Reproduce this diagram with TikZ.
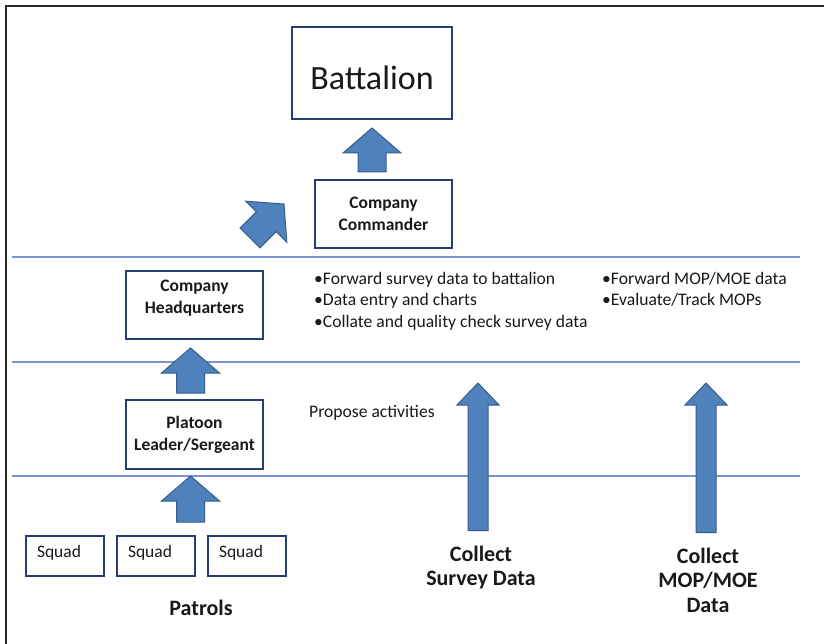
\documentclass[tikz,border=0pt]{standalone}
\usepackage{fontspec}
\setmainfont{Carlito}
\usetikzlibrary{calc}
\definecolor{boxedge}{RGB}{38,62,112}
\definecolor{arrfill}{RGB}{79,129,189}
\definecolor{arredge}{RGB}{56,93,138}
\definecolor{sepline}{RGB}{120,150,205}
\definecolor{txt}{RGB}{25,25,25}
\begin{document}
\begin{tikzpicture}[x=1pt,y=-1pt,
  unit/.style={draw=boxedge,line width=2pt,align=center,inner sep=0pt,text=txt,font=\bfseries\fontsize{17.5}{22}\selectfont},
  squad/.style={draw=boxedge,line width=2pt,inner xsep=11pt,inner ysep=3pt,text width=56pt,text height=18.5pt,text depth=15.5pt,align=left,text=txt,font=\fontsize{17.5}{21}\selectfont},
  lbl/.style={inner sep=0pt,align=center,text=txt,font=\bfseries\fontsize{22}{24.5}\selectfont},
  note/.style={inner sep=0pt,align=left,text=txt,font=\fontsize{17.6}{21.5}\selectfont},
  sep/.style={draw=sepline,line width=1.2pt},
  arr shaft/.store in=\arrshaft, arr head/.store in=\arrhead, arr len/.store in=\arrlen,
  arr shaft=14pt, arr head=29pt, arr len=25pt,
  blockarr/.style={draw=arredge,fill=arrfill,line width=1pt,line join=miter,
    to path={($(\tikztotarget)!\arrlen!(\tikztostart)$) coordinate (hb)
      ($(\tikztostart)!\arrshaft!90:(\tikztotarget)$) -- ($(hb)!\arrshaft!90:(\tikztotarget)$)
      -- ($(hb)!\arrhead!90:(\tikztotarget)$) -- (\tikztotarget)
      -- ($(hb)!\arrhead!-90:(\tikztotarget)$) -- ($(hb)!\arrshaft!-90:(\tikztotarget)$)
      -- ($(\tikztostart)!\arrshaft!-90:(\tikztotarget)$) -- cycle}},
  bigarr/.style={blockarr,arr shaft=10pt,arr head=21pt,arr len=22pt}]
\useasboundingbox (0,0) rectangle (824,644);
\fill[white] (0,0) rectangle (824,644);
\draw[line width=2.7pt,black!85] (6,650) -- (6,6) -- (830,6);

\draw[sep] (12,257) -- (800,257);
\draw[sep] (12,362) -- (800,362);
\draw[sep] (12,476) -- (800,476);

\node[unit,font=\fontsize{34}{40}\selectfont,minimum width=160pt,minimum height=92pt,text height=40pt,text depth=7pt] (bat) at (372,73) {Battalion};
\node[unit,minimum width=137pt,minimum height=68pt] (cmd) at (383.5,214) {Company\\Commander};
\node[unit,minimum width=137pt,minimum height=68pt] (hq) at (194.5,305) {Company\\Headquarters\\[-5pt]\mbox{}};
\node[unit,minimum width=137pt,minimum height=69pt] (plt) at (194.5,434.5) {Platoon\\Leader/Sergeant};
\node[squad] (sq1) at (65,556) {Squad};
\node[squad] (sq2) at (156,556) {Squad};
\node[squad] (sq3) at (247,556) {Squad};

\node[note,anchor=north west] (col1) at (314,272) {•Forward survey data to battalion\\•Data entry and charts\\•Collate and quality check survey data};
\node[note,anchor=north west] (col2) at (602,272) {•Forward MOP/MOE data\\•Evaluate/Track MOPs};
\node[note,anchor=west] (prop) at (309,413) {Propose activities};
\node[lbl] (patrols) at (201,608) {Patrols};
\node[lbl] (survey) at (481,567.5) {Collect\\Survey Data};
\node[lbl] (mop) at (708,580) {Collect\\MOP/MOE\\Data};

\coordinate (dtail) at (250,238);
\coordinate (dtip) at (284,204);
\coordinate (survtip) at (478,383);
\coordinate (moptip) at (706,383);
\draw[blockarr] ($(bat.south |- cmd.north)+(0,7pt)$) to ($(bat.south)+(0,-8pt)$);
\draw[blockarr] ($(plt.north)+(-4pt,6pt)$) to ($(hq.south)+(-4pt,-8pt)$);
\draw[blockarr] ($(plt.south |- sq2.north)+(-4pt,13pt)$) to ($(plt.south)+(-4pt,-6pt)$);
\draw[blockarr] (dtail) to (dtip);
\draw[bigarr] ($(survtip |- survey.north)+(0,15pt)$) to (survtip);
\draw[bigarr] ($(moptip |- mop.north)+(0,15pt)$) to (moptip);
\end{tikzpicture}
\end{document}
